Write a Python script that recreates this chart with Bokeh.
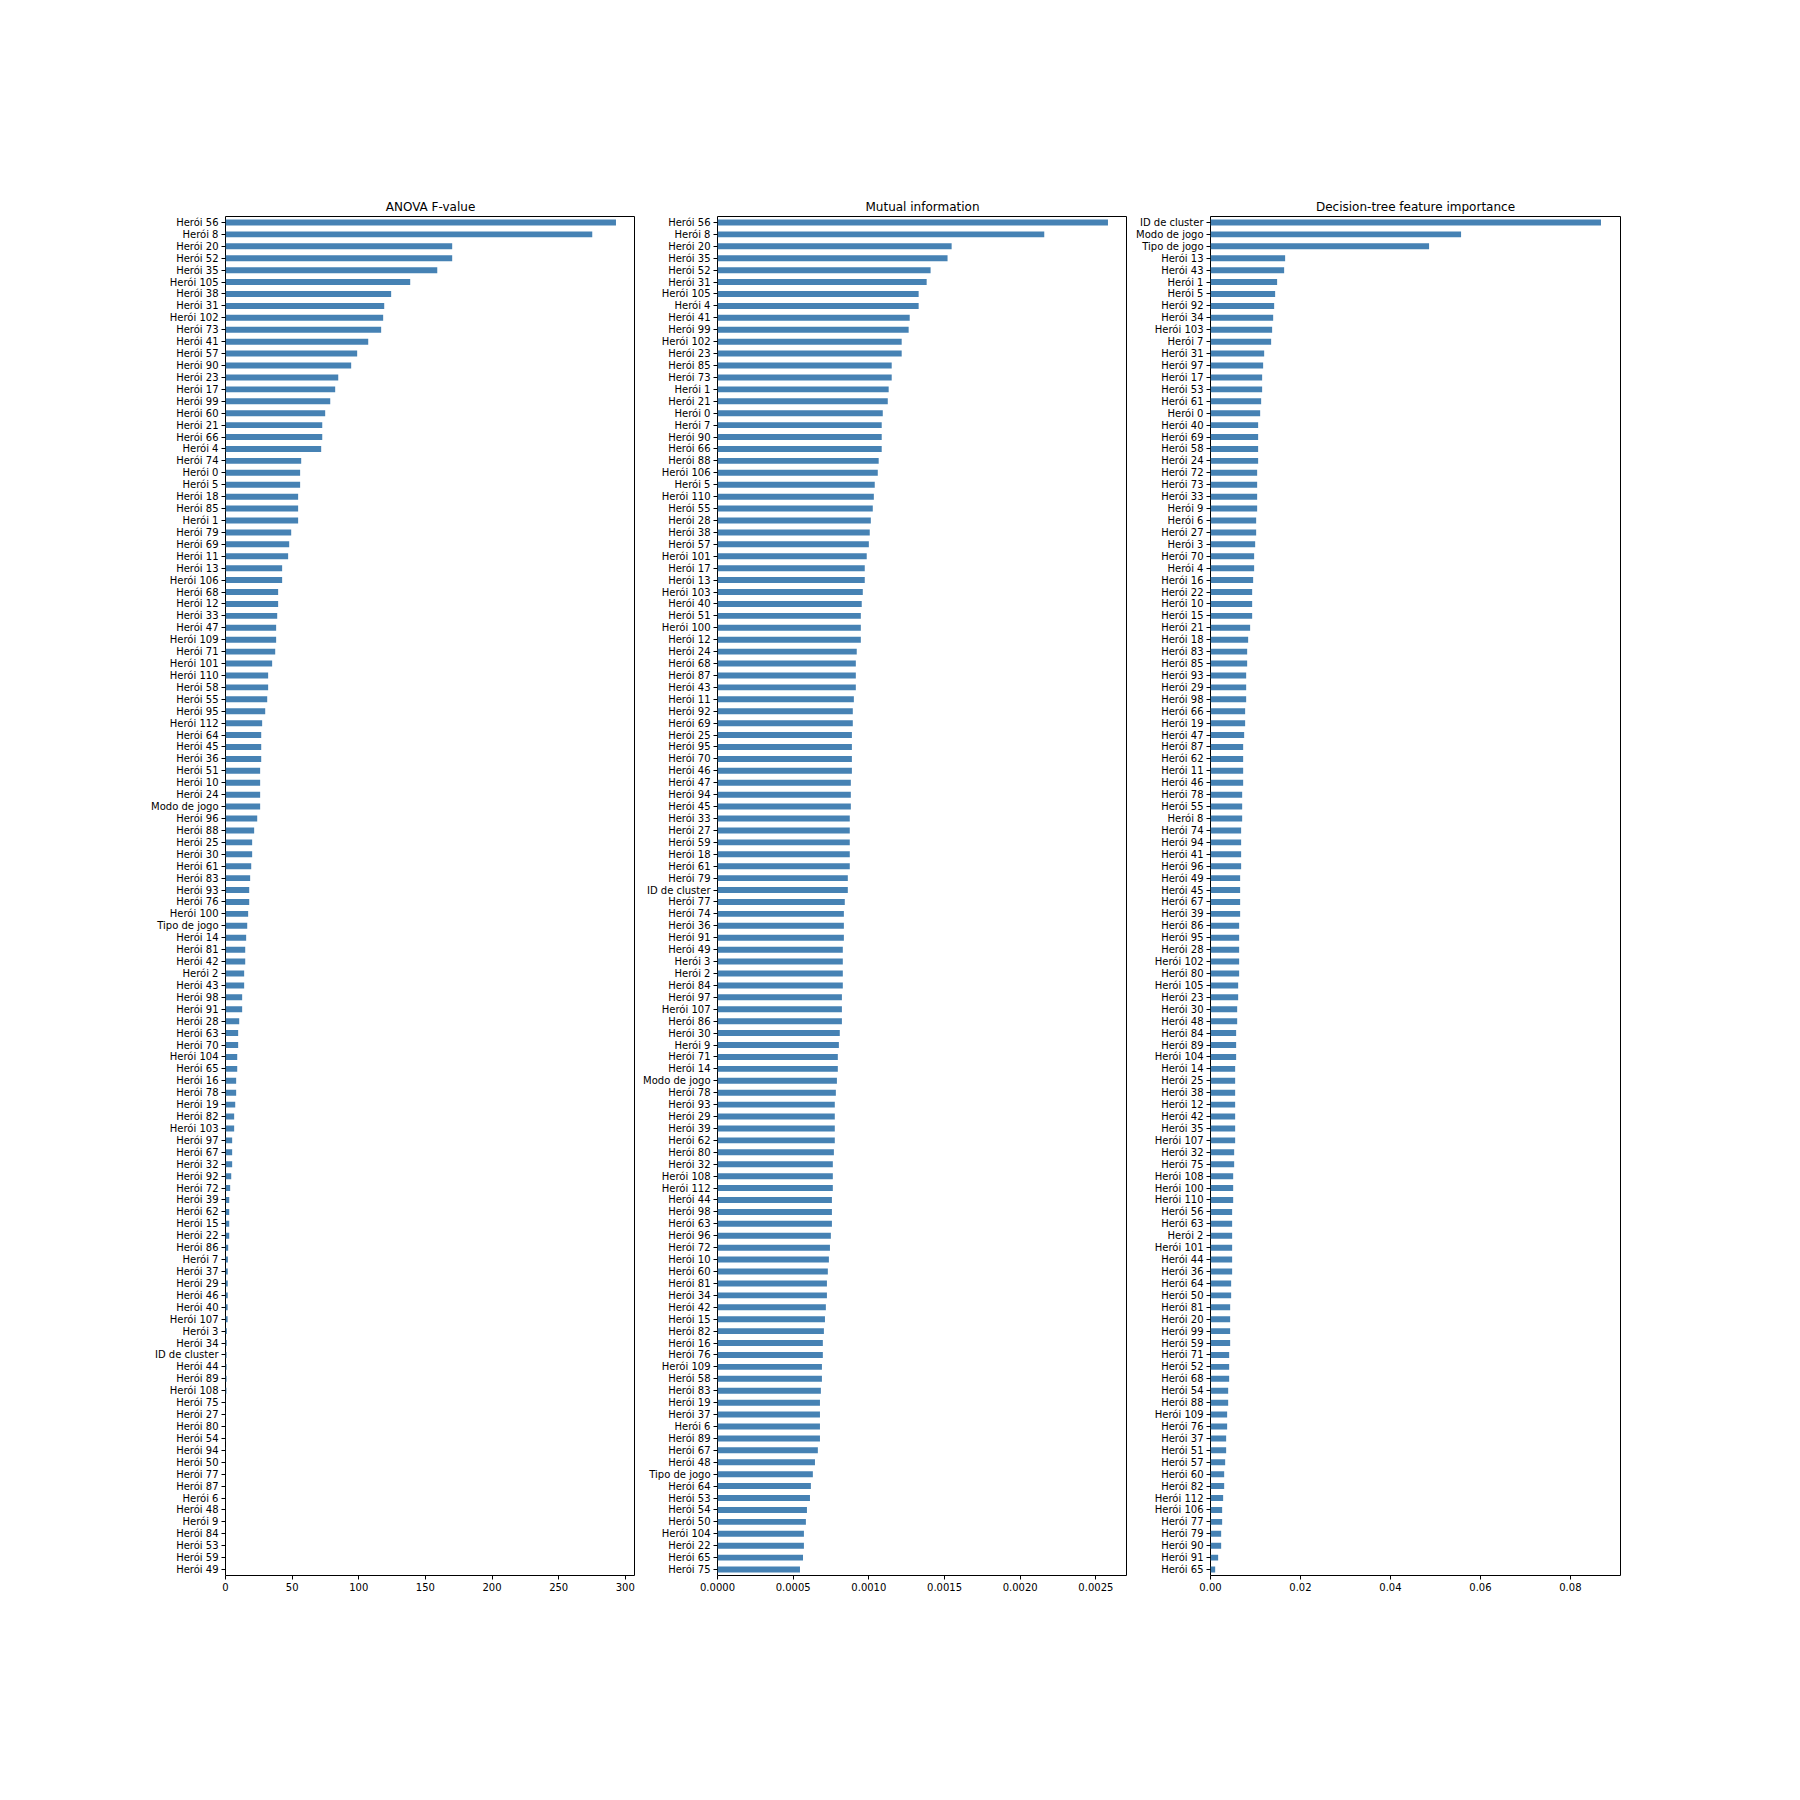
from bokeh.plotting import figure
from bokeh.layouts import row
from bokeh.models import ColumnDataSource, FactorRange, Range1d, FixedTicker, PrintfTickFormatter
from bokeh.embed import file_html
from bokeh.resources import INLINE

# ---------------- data ----------------
anova_features = [
    "Herói 56", "Herói 8", "Herói 20", "Herói 52", "Herói 35", "Herói 105", "Herói 38", "Herói 31",
    "Herói 102", "Herói 73", "Herói 41", "Herói 57", "Herói 90", "Herói 23", "Herói 17", "Herói 99",
    "Herói 60", "Herói 21", "Herói 66", "Herói 4", "Herói 74", "Herói 0", "Herói 5", "Herói 18",
    "Herói 85", "Herói 1", "Herói 79", "Herói 69", "Herói 11", "Herói 13", "Herói 106", "Herói 68",
    "Herói 12", "Herói 33", "Herói 47", "Herói 109", "Herói 71", "Herói 101", "Herói 110", "Herói 58",
    "Herói 55", "Herói 95", "Herói 112", "Herói 64", "Herói 45", "Herói 36", "Herói 51", "Herói 10",
    "Herói 24", "Modo de jogo", "Herói 96", "Herói 88", "Herói 25", "Herói 30", "Herói 61", "Herói 83",
    "Herói 93", "Herói 76", "Herói 100", "Tipo de jogo", "Herói 14", "Herói 81", "Herói 42", "Herói 2",
    "Herói 43", "Herói 98", "Herói 91", "Herói 28", "Herói 63", "Herói 70", "Herói 104", "Herói 65",
    "Herói 16", "Herói 78", "Herói 19", "Herói 82", "Herói 103", "Herói 97", "Herói 67", "Herói 32",
    "Herói 92", "Herói 72", "Herói 39", "Herói 62", "Herói 15", "Herói 22", "Herói 86", "Herói 7",
    "Herói 37", "Herói 29", "Herói 46", "Herói 40", "Herói 107", "Herói 3", "Herói 34", "ID de cluster",
    "Herói 44", "Herói 89", "Herói 108", "Herói 75", "Herói 27", "Herói 80", "Herói 54", "Herói 94",
    "Herói 50", "Herói 77", "Herói 87", "Herói 6", "Herói 48", "Herói 9", "Herói 84", "Herói 53",
    "Herói 59", "Herói 49",
]
anova_values = [
    293.0, 275.2, 170.1, 170.1, 158.9, 138.6, 124.3, 119.1,
    118.3, 116.8, 107.1, 98.8, 94.3, 84.6, 82.3, 78.6,
    74.8, 72.6, 72.6, 71.8, 56.8, 56.0, 56.0, 54.5,
    54.5, 54.5, 49.3, 47.8, 47.0, 42.5, 42.5, 39.5,
    39.5, 38.8, 38.0, 38.0, 37.3, 35.0, 32.0, 32.0,
    31.3, 29.8, 27.5, 26.8, 26.8, 26.8, 26.0, 26.0,
    26.0, 26.0, 23.8, 21.5, 20.0, 20.0, 19.3, 18.5,
    17.8, 17.8, 17.0, 16.3, 15.5, 14.8, 14.8, 14.0,
    14.0, 12.5, 12.5, 10.3, 9.5, 9.5, 8.8, 8.8,
    8.0, 8.0, 7.3, 6.5, 6.5, 5.0, 5.0, 5.0,
    4.3, 3.5, 2.8, 2.8, 2.8, 2.8, 2.0, 1.8,
    1.7, 1.7, 1.7, 1.6, 1.6, 1.0, 0.9, 0.8,
    0.8, 0.8, 0.7, 0.3, 0.3, 0.2, 0.2, 0.2,
    0.15, 0.1, 0.1, 0.08, 0.06, 0.05, 0.04, 0.03,
    0.02, 0.01,
]

mi_features = [
    "Herói 56", "Herói 8", "Herói 20", "Herói 35", "Herói 52", "Herói 31", "Herói 105", "Herói 4",
    "Herói 41", "Herói 99", "Herói 102", "Herói 23", "Herói 85", "Herói 73", "Herói 1", "Herói 21",
    "Herói 0", "Herói 7", "Herói 90", "Herói 66", "Herói 88", "Herói 106", "Herói 5", "Herói 110",
    "Herói 55", "Herói 28", "Herói 38", "Herói 57", "Herói 101", "Herói 17", "Herói 13", "Herói 103",
    "Herói 40", "Herói 51", "Herói 100", "Herói 12", "Herói 24", "Herói 68", "Herói 87", "Herói 43",
    "Herói 11", "Herói 92", "Herói 69", "Herói 25", "Herói 95", "Herói 70", "Herói 46", "Herói 47",
    "Herói 94", "Herói 45", "Herói 33", "Herói 27", "Herói 59", "Herói 18", "Herói 61", "Herói 79",
    "ID de cluster", "Herói 77", "Herói 74", "Herói 36", "Herói 91", "Herói 49", "Herói 3", "Herói 2",
    "Herói 84", "Herói 97", "Herói 107", "Herói 86", "Herói 30", "Herói 9", "Herói 71", "Herói 14",
    "Modo de jogo", "Herói 78", "Herói 93", "Herói 29", "Herói 39", "Herói 62", "Herói 80", "Herói 32",
    "Herói 108", "Herói 112", "Herói 44", "Herói 98", "Herói 63", "Herói 96", "Herói 72", "Herói 10",
    "Herói 60", "Herói 81", "Herói 34", "Herói 42", "Herói 15", "Herói 82", "Herói 16", "Herói 76",
    "Herói 109", "Herói 58", "Herói 83", "Herói 19", "Herói 37", "Herói 6", "Herói 89", "Herói 67",
    "Herói 48", "Tipo de jogo", "Herói 64", "Herói 53", "Herói 54", "Herói 50", "Herói 104", "Herói 22",
    "Herói 65", "Herói 75",
]
mi_values = [
    0.002580, 0.002159, 0.001547, 0.001520, 0.001408, 0.001382, 0.001329, 0.001329,
    0.001270, 0.001263, 0.001217, 0.001217, 0.001151, 0.001151, 0.001131, 0.001125,
    0.001092, 0.001085, 0.001085, 0.001085, 0.001065, 0.001059, 0.001039, 0.001033,
    0.001026, 0.001013, 0.001006, 0.001000, 0.000986, 0.000973, 0.000973, 0.000960,
    0.000953, 0.000947, 0.000947, 0.000947, 0.000920, 0.000914, 0.000914, 0.000914,
    0.000901, 0.000894, 0.000894, 0.000888, 0.000888, 0.000888, 0.000888, 0.000881,
    0.000881, 0.000881, 0.000874, 0.000874, 0.000874, 0.000874, 0.000874, 0.000861,
    0.000861, 0.000841, 0.000835, 0.000835, 0.000835, 0.000828, 0.000828, 0.000828,
    0.000828, 0.000822, 0.000822, 0.000822, 0.000808, 0.000802, 0.000795, 0.000795,
    0.000789, 0.000782, 0.000775, 0.000775, 0.000775, 0.000775, 0.000769, 0.000762,
    0.000762, 0.000762, 0.000756, 0.000756, 0.000756, 0.000749, 0.000743, 0.000736,
    0.000729, 0.000723, 0.000723, 0.000716, 0.000710, 0.000703, 0.000696, 0.000696,
    0.000690, 0.000690, 0.000683, 0.000677, 0.000677, 0.000677, 0.000677, 0.000663,
    0.000644, 0.000630, 0.000617, 0.000611, 0.000591, 0.000584, 0.000571, 0.000571,
    0.000565, 0.000545,
]

tree_features = [
    "ID de cluster", "Modo de jogo", "Tipo de jogo", "Herói 13", "Herói 43", "Herói 1", "Herói 5", "Herói 92",
    "Herói 34", "Herói 103", "Herói 7", "Herói 31", "Herói 97", "Herói 17", "Herói 53", "Herói 61",
    "Herói 0", "Herói 40", "Herói 69", "Herói 58", "Herói 24", "Herói 72", "Herói 73", "Herói 33",
    "Herói 9", "Herói 6", "Herói 27", "Herói 3", "Herói 70", "Herói 4", "Herói 16", "Herói 22",
    "Herói 10", "Herói 15", "Herói 21", "Herói 18", "Herói 83", "Herói 85", "Herói 93", "Herói 29",
    "Herói 98", "Herói 66", "Herói 19", "Herói 47", "Herói 87", "Herói 62", "Herói 11", "Herói 46",
    "Herói 78", "Herói 55", "Herói 8", "Herói 74", "Herói 94", "Herói 41", "Herói 96", "Herói 49",
    "Herói 45", "Herói 67", "Herói 39", "Herói 86", "Herói 95", "Herói 28", "Herói 102", "Herói 80",
    "Herói 105", "Herói 23", "Herói 30", "Herói 48", "Herói 84", "Herói 89", "Herói 104", "Herói 14",
    "Herói 25", "Herói 38", "Herói 12", "Herói 42", "Herói 35", "Herói 107", "Herói 32", "Herói 75",
    "Herói 108", "Herói 100", "Herói 110", "Herói 56", "Herói 63", "Herói 2", "Herói 101", "Herói 44",
    "Herói 36", "Herói 64", "Herói 50", "Herói 81", "Herói 20", "Herói 99", "Herói 59", "Herói 71",
    "Herói 52", "Herói 68", "Herói 54", "Herói 88", "Herói 109", "Herói 76", "Herói 37", "Herói 51",
    "Herói 57", "Herói 60", "Herói 82", "Herói 112", "Herói 106", "Herói 77", "Herói 79", "Herói 90",
    "Herói 91", "Herói 65",
]
tree_values = [
    0.08680, 0.05570, 0.04859, 0.01659, 0.01637, 0.01481, 0.01437, 0.01415,
    0.01393, 0.01370, 0.01348, 0.01193, 0.01170, 0.01148, 0.01148, 0.01126,
    0.01104, 0.01059, 0.01059, 0.01059, 0.01059, 0.01037, 0.01037, 0.01037,
    0.01037, 0.01015, 0.01015, 0.00993, 0.00970, 0.00970, 0.00948, 0.00926,
    0.00926, 0.00926, 0.00881, 0.00837, 0.00815, 0.00815, 0.00793, 0.00793,
    0.00793, 0.00770, 0.00770, 0.00748, 0.00726, 0.00726, 0.00726, 0.00726,
    0.00704, 0.00704, 0.00704, 0.00681, 0.00681, 0.00681, 0.00681, 0.00659,
    0.00659, 0.00659, 0.00659, 0.00637, 0.00637, 0.00637, 0.00637, 0.00637,
    0.00615, 0.00615, 0.00593, 0.00593, 0.00570, 0.00570, 0.00570, 0.00548,
    0.00548, 0.00548, 0.00548, 0.00548, 0.00548, 0.00548, 0.00526, 0.00526,
    0.00504, 0.00504, 0.00504, 0.00481, 0.00481, 0.00481, 0.00481, 0.00481,
    0.00481, 0.00459, 0.00459, 0.00437, 0.00437, 0.00437, 0.00437, 0.00415,
    0.00415, 0.00415, 0.00393, 0.00393, 0.00370, 0.00370, 0.00348, 0.00348,
    0.00326, 0.00304, 0.00304, 0.00281, 0.00259, 0.00259, 0.00237, 0.00237,
    0.00170, 0.00104,
]

titles = ["ANOVA F-value", "Mutual information", "Decision-tree feature importance"]
anova_ticks = [0, 50, 100, 150, 200, 250, 300]
mi_ticks = [0.0, 0.0005, 0.0010, 0.0015, 0.0020, 0.0025]
tree_ticks = [0.0, 0.02, 0.04, 0.06, 0.08]

FONT = "DejaVu Sans"
BAR = "#4682b4"


def panel(title, feats, vals, ticks, fmt, left_border, right_border):
    src = ColumnDataSource(dict(feature=feats, value=vals))
    p = figure(
        y_range=FactorRange(factors=list(reversed(feats))),
        x_range=Range1d(0, max(vals) * 1.05),
        frame_width=410, frame_height=1359,
        min_border_left=left_border, min_border_right=right_border,
        min_border_top=216, min_border_bottom=50,
        output_backend="svg", toolbar_location=None, title=title,
        background_fill_color="white", border_fill_color="white",
    )
    p.hbar(y="feature", left=0, right="value", height=0.5, source=src,
           fill_color=BAR, line_color=None)
    p.title.align = "center"
    p.title.text_font = FONT
    p.title.text_font_size = "12px"
    p.title.text_font_style = "normal"
    p.title.text_color = "black"
    p.title.standoff = 5
    p.outline_line_color = "black"
    p.outline_line_width = 1
    p.xgrid.visible = False
    p.ygrid.visible = False
    for ax in (p.xaxis[0], p.yaxis[0]):
        ax.major_label_text_font = FONT
        ax.major_label_text_font_size = "10px"
        ax.major_label_text_color = "black"
        ax.axis_line_color = "black"
        ax.major_tick_line_color = "black"
        ax.major_tick_out = 4
        ax.major_tick_in = 0
        ax.minor_tick_line_color = None
        ax.major_label_standoff = 3
    p.xaxis[0].ticker = FixedTicker(ticks=ticks)
    if fmt:
        p.xaxis[0].formatter = PrintfTickFormatter(format=fmt)
    p.yaxis[0].axis_line_color = None
    p.xaxis[0].axis_line_color = None
    return p


p1 = panel(titles[0], anova_features, anova_values, anova_ticks, None, 225, 0)
p2 = panel(titles[1], mi_features, mi_values, mi_ticks, "%.4f", 82, 0)
p3 = panel(titles[2], tree_features, tree_values, tree_ticks, "%.2f", 83, 40)

layout = row(p1, p2, p3)
open("out.html", "w").write(file_html(layout, INLINE))
